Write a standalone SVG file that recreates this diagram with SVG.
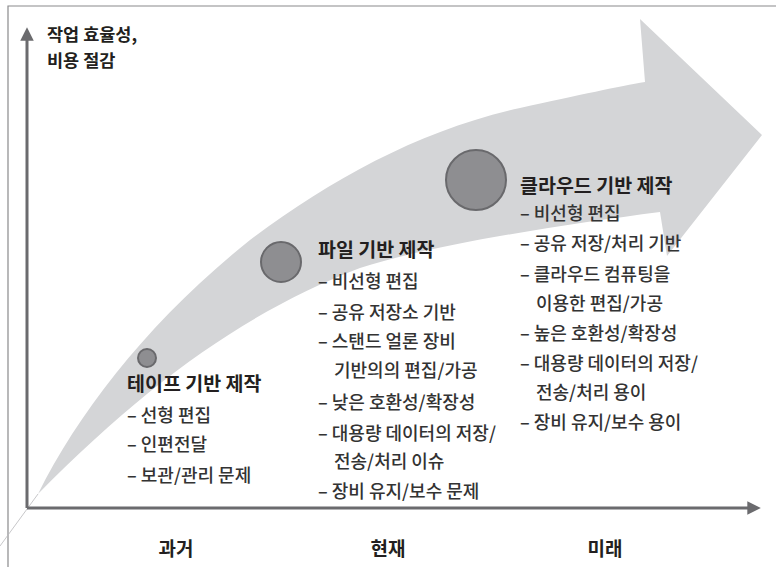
<svg xmlns="http://www.w3.org/2000/svg" width="776" height="567" viewBox="0 0 776 567">
<style>
.frame{stroke:#8a8a8c;stroke-width:1.2;fill:none}
.axis{stroke:#6b6b6e;stroke-width:3;fill:none}
.dot{fill:#8e8e91;stroke:#69696c;stroke-width:2}
.t{font-family:"Noto Sans CJK KR","Noto Sans",sans-serif;fill:#231f20}
.h{font-size:19.5px;font-weight:700}
.y{font-size:17.5px;font-weight:700}
.i{font-size:18px;font-weight:500;fill:#333}
.ax{font-size:19px;font-weight:700;text-anchor:middle}
</style>
<defs>
<marker id="ah" viewBox="0 0 10 10" refX="2" refY="5" markerWidth="4.5" markerHeight="4.5" orient="auto" markerUnits="strokeWidth">
<path d="M0,0 L10,5 L0,10 Z" fill="#6b6b6e"/>
</marker>
</defs>
<rect width="776" height="567" fill="#fff"/>
<g id="frame">
<path class="frame" d="M8,567 V6 H776"/>
</g>
<g id="trend">
<path d="M38,494 C80,410 150,320 250,240 C330,180 420,130 520,108 C580,95 620,86 645,82 L640,19 L762,135 L667,256 L660,212 C560,225 430,245 360,268 C250,310 150,380 38,494 Z" fill="#d4d5d7"/>
<line x1="38" y1="494" x2="0" y2="546" stroke="#b9b9bb" stroke-width="0.8"/>
</g>
<g id="connectors">
<path class="axis" d="M27,508 V38" marker-end="url(#ah)"/>
<path class="axis" d="M27,508 H750" marker-end="url(#ah)"/>
</g>
<g id="ylabel">
<text class="t y" x="47" y="41">작업 효율성,</text>
<text class="t y" x="47" y="67">비용 절감</text>
</g>
<g id="tape">
<circle class="dot" cx="147" cy="358" r="9"/>
<text class="t h" x="127" y="391">테이프 기반 제작</text>
<text class="t i" x="127" y="422">– 선형 편집</text>
<text class="t i" x="127" y="451">– 인편전달</text>
<text class="t i" x="127" y="482">– 보관/관리 문제</text>
</g>
<g id="file">
<circle class="dot" cx="281" cy="262" r="20"/>
<text class="t h" x="318" y="257">파일 기반 제작</text>
<text class="t i" x="318" y="288">– 비선형 편집</text>
<text class="t i" x="318" y="319">– 공유 저장소 기반</text>
<text class="t i" x="318" y="348">– 스탠드 얼론 장비</text>
<text class="t i" x="334" y="377">기반의의 편집/가공</text>
<text class="t i" x="318" y="409">– 낮은 호환성/확장성</text>
<text class="t i" x="318" y="440">– 대용량 데이터의 저장/</text>
<text class="t i" x="334" y="468">전송/처리 이슈</text>
<text class="t i" x="318" y="498">– 장비 유지/보수 문제</text>
</g>
<g id="cloud">
<circle class="dot" cx="476" cy="180" r="30"/>
<text class="t h" x="520" y="193">클라우드 기반 제작</text>
<text class="t i" x="520" y="220">– 비선형 편집</text>
<text class="t i" x="520" y="250">– 공유 저장/처리 기반</text>
<text class="t i" x="520" y="281">– 클라우드 컴퓨팅을</text>
<text class="t i" x="536" y="310">이용한 편집/가공</text>
<text class="t i" x="520" y="340">– 높은 호환성/확장성</text>
<text class="t i" x="520" y="370">– 대용량 데이터의 저장/</text>
<text class="t i" x="536" y="399">전송/처리 용이</text>
<text class="t i" x="520" y="429">– 장비 유지/보수 용이</text>
</g>
<g id="xlabels">
<text class="t ax" x="176" y="556">과거</text>
<text class="t ax" x="388" y="556">현재</text>
<text class="t ax" x="605" y="556">미래</text>
</g>
</svg>
